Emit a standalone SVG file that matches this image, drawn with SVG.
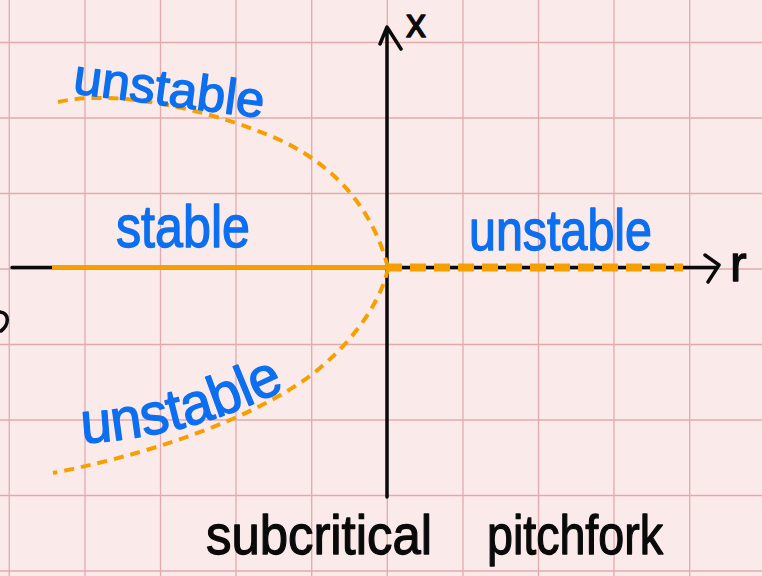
<svg xmlns="http://www.w3.org/2000/svg" width="762" height="576" viewBox="0 0 762 576">
<style>
.grid line{stroke:#e2aaac;stroke-width:1.3}
.lbl{font-family:"Liberation Sans","Noto Sans",sans-serif;fill:#0b6ff0;stroke:#0b6ff0;stroke-width:1.4;stroke-linejoin:round}
.blk{font-family:"Liberation Sans","Noto Sans",sans-serif;fill:#0a0a0a;stroke:#0a0a0a;stroke-width:1.3;stroke-linejoin:round}
.ax{stroke:#0a0a0a;stroke-width:3.5;fill:none;stroke-linecap:round;stroke-linejoin:round}
.br{stroke:#f5a000;fill:none;stroke-width:4;stroke-dasharray:10 7}
</style>
<rect width="762" height="576" fill="#fbeaea"/>
<g class="grid">
<line x1="9.3" y1="0" x2="9.3" y2="576"/><line x1="85" y1="0" x2="85" y2="576"/><line x1="160.5" y1="0" x2="160.5" y2="576"/><line x1="236" y1="0" x2="236" y2="576"/><line x1="311.7" y1="0" x2="311.7" y2="576"/><line x1="387.3" y1="0" x2="387.3" y2="576"/><line x1="463" y1="0" x2="463" y2="576"/><line x1="538.5" y1="0" x2="538.5" y2="576"/><line x1="614" y1="0" x2="614" y2="576"/><line x1="689.7" y1="0" x2="689.7" y2="576"/>
<line x1="0" y1="42.5" x2="762" y2="42.5"/><line x1="0" y1="118" x2="762" y2="118"/><line x1="0" y1="193.5" x2="762" y2="193.5"/><line x1="0" y1="269" x2="762" y2="269"/><line x1="0" y1="344.5" x2="762" y2="344.5"/><line x1="0" y1="420" x2="762" y2="420"/><line x1="0" y1="495.5" x2="762" y2="495.5"/><line x1="0" y1="571" x2="762" y2="571"/>
</g>
<g id="connectors">
<path id="r-axis" class="ax" d="M12,267.5 L717,267.5 M705,255 L719,265 L708,282"/>
<path id="x-axis" class="ax" d="M387,497 L387,28 M380,44 L387,27 L401,49"/>
<path id="stable-branch" d="M52,267.5 L387,267.5" stroke="#f5a000" stroke-width="4.5" fill="none"/>
<path id="unstable-right" d="M386,267.5 L683,267.5" stroke="#f5a000" stroke-width="8" fill="none" stroke-dasharray="16 8"/>
<path id="upper-branch" class="br" d="M58,102 C110,90 200,105 280,140 C340,168 375,215 388,268"/>
<path id="lower-branch" class="br" d="M388,268 C384,290 365,330 320,368 C270,410 170,450 53,473"/>
<path id="edge-mark" class="ax" d="M0,312 C9,313 10,324 1,331"/>
</g>
<g id="axis-label-x"><text class="blk" x="406" y="37" font-size="40">x</text></g>
<g id="axis-label-r"><text class="blk" x="730" y="281" font-size="50">r</text></g>
<g id="label-unstable-top"><text class="lbl" font-size="50" transform="translate(72,93) rotate(7.5)" textLength="192" lengthAdjust="spacingAndGlyphs">unstable</text></g>
<g id="label-stable"><text class="lbl" x="116" y="247" font-size="60" textLength="134" lengthAdjust="spacingAndGlyphs">stable</text></g>
<g id="label-unstable-right"><text class="lbl" x="469" y="250" font-size="58" textLength="183" lengthAdjust="spacingAndGlyphs">unstable</text></g>
<defs><path id="lowpath" d="M82,443 Q190,438 292,386"/></defs>
<g id="label-unstable-bottom"><text class="lbl" font-size="58"><textPath href="#lowpath" textLength="212" lengthAdjust="spacingAndGlyphs">unstable</textPath></text></g>
<g id="label-title"><text class="blk" x="206" y="554" font-size="56" textLength="226" lengthAdjust="spacingAndGlyphs">subcritical</text><text class="blk" x="487" y="554" font-size="56" textLength="176" lengthAdjust="spacingAndGlyphs">pitchfork</text></g>
</svg>
